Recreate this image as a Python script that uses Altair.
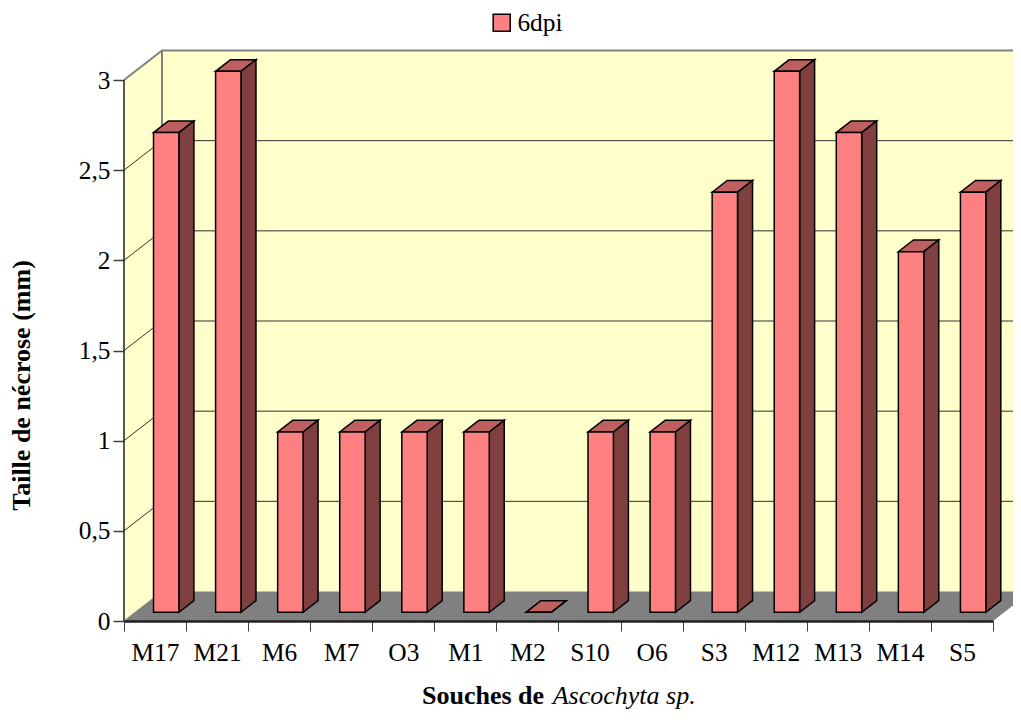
import altair as alt
import pandas as pd

categories = ["M17", "M21", "M6", "M7", "O3", "M1", "M2", "S10", "O6", "S3", "M12", "M13", "M14", "S5"]
values = [2.66, 3, 1, 1, 1, 1, 0, 1, 1, 2.33, 3, 2.66, 2, 2.33]
y_ticks = [0, 0.5, 1, 1.5, 2, 2.5, 3]
series_name = "6dpi"

FONT = "Liberation Serif"
PX_X = 62.07          # px per category
PX_Y = 180.33         # px per y unit
W, H = 889, 577
DX = 38 / PX_X        # depth of the box on x
DY = 29.5 / PX_Y      # depth of the box on y
BAR_L, BAR_R = 0.295, 0.704   # bar front edges inside a category
D0, D1 = 0.295, 0.69  # bar depth span
XMAX = W / PX_X
YMAX = H / PX_Y
XBACK = len(categories) + DX

X = alt.X("x:Q", scale=alt.Scale(domain=[0, XMAX], nice=False, zero=False), axis=None)
Y = alt.Y("y:Q", stack=None, scale=alt.Scale(domain=[0, YMAX], nice=False, zero=False),
          axis=alt.Axis(values=y_ticks, title="Taille de nécrose (mm)", domain=False, grid=False,
                        tickSize=11, tickColor="#404040", tickWidth=1.5, labelPadding=3,
                        labelExpr="replace(format(datum.value, ''), '.', ',')",
                        labelFont=FONT, labelFontSize=25.4, labelColor="black",
                        titleFont=FONT, titleFontSize=26, titleFontWeight="bold", titleColor="black",
                        titleX=-90, titleY=341))
Y2 = alt.Y2("y2:Q")
X2 = alt.X2("x2:Q")


def quads():
    top, side, front = [], [], []
    for i, (c, v) in enumerate(zip(categories, values)):
        l, r = i + BAR_L, i + BAR_R
        front.append(dict(c=c, series=series_name, x=l + D0 * DX, x2=r + D0 * DX, y=v + D0 * DY, y2=D0 * DY))
        for d in (D0, D1):
            side.append(dict(c=c, x=r + d * DX, y=v + d * DY, y2=d * DY))
            top.append(dict(c=c, y=v + d * DY, x=l + d * DX, x2=r + d * DX))
    return pd.DataFrame(top), pd.DataFrame(side), pd.DataFrame(front)


top_df, side_df, front_df = quads()

# Walls and floor
back = alt.Chart(pd.DataFrame([dict(x=DX, x2=XBACK, y=DY, y2=3 + DY)])).mark_rect(
    color="#FFFFCC", clip=True).encode(x=X, x2=X2, y=Y, y2=Y2)
left = alt.Chart(pd.DataFrame([dict(x=0, y=3, y2=0), dict(x=DX, y=3 + DY, y2=DY)])).mark_area(
    color="#FFFFCC", orient="vertical").encode(x=X, y=Y, y2=Y2)
floor = alt.Chart(pd.DataFrame([dict(y=0, x=0, x2=len(categories)),
                                dict(y=DY, x=DX, x2=XBACK)])).mark_area(
    color="#808080", orient="horizontal", clip=True).encode(y=Y, x=X, x2=X2)

# Gridlines
grid_rows = []
for v in y_ticks[1:-1]:
    grid_rows += [dict(g=v, o=0, x=0, y=v), dict(g=v, o=1, x=DX, y=v + DY), dict(g=v, o=2, x=XBACK, y=v + DY)]
grid = alt.Chart(pd.DataFrame(grid_rows)).mark_line(color="#303030", strokeWidth=1, clip=True).encode(
    x=X, y=Y, detail="g:N", order="o:O")

outline = alt.Chart(pd.DataFrame([dict(o=0, x=DX, y=DY), dict(o=1, x=DX, y=3 + DY),
                                  dict(o=2, x=XBACK, y=3 + DY)])).mark_line(
    color="#808080", strokeWidth=2, clip=True).encode(x=X, y=Y, order="o:O")
outline2 = alt.Chart(pd.DataFrame([dict(o=0, x=0, y=3), dict(o=1, x=DX, y=3 + DY)])).mark_line(
    color="#808080", strokeWidth=2).encode(x=X, y=Y, order="o:O")
axis_line = alt.Chart(pd.DataFrame([dict(o=0, x=0, y=0), dict(o=1, x=0, y=3)])).mark_line(
    color="#202020", strokeWidth=1.5).encode(x=X, y=Y, order="o:O")
floor_diag = alt.Chart(pd.DataFrame([dict(o=0, x=0, y=0), dict(o=1, x=DX, y=DY)])).mark_line(
    color="#808080", strokeWidth=1).encode(x=X, y=Y, order="o:O")

# Bars
bar_top = alt.Chart(top_df).mark_area(color="#BF6060", stroke="black", strokeWidth=1.5,
                                      orient="horizontal").encode(y=Y, x=X, x2=X2, detail="c:N")
bar_side = alt.Chart(side_df).mark_area(color="#804040", stroke="black", strokeWidth=1.5,
                                        orient="vertical").encode(x=X, y=Y, y2=Y2, detail="c:N")
bar_front = alt.Chart(front_df).mark_rect(stroke="black", strokeWidth=1.5).encode(
    x=X, x2=X2, y=Y, y2=Y2,
    color=alt.Color("series:N", scale=alt.Scale(domain=[series_name], range=["#FF8080"]),
                    legend=alt.Legend(orient="none", legendX=365, legendY=-34, title=None,
                                      symbolType="square", symbolSize=290, symbolStrokeColor="black",
                                      symbolStrokeWidth=1.5, symbolOpacity=1,
                                      labelFont=FONT, labelFontSize=25.4, labelColor="black",
                                      labelOffset=3, padding=0)))

# Category axis
cat_axis = alt.Chart(pd.DataFrame({"c": categories})).mark_point(opacity=0).encode(
    x=alt.X("c:N", sort=categories, title=None,
            scale=alt.Scale(type="band", domain=categories, range=[0, PX_X * len(categories)], padding=0),
            axis=alt.Axis(tickBand="extent", labelAngle=0, labelFont=FONT, labelFontSize=25.4,
                          labelColor="black", labelPadding=9, tickSize=10, tickColor="#404040",
                          tickWidth=1, domainColor="#202020", domainWidth=2.5, zindex=1,
                          labelBaseline="top"))
)

title_a = alt.Chart(pd.DataFrame({"t": ["Souches de"]})).mark_text(
    font=FONT, fontSize=26, fontWeight="bold", align="left", baseline="alphabetic", color="black").encode(
    text="t:N", x=alt.value(298), y=alt.value(660))
title_b = alt.Chart(pd.DataFrame({"t": ["Ascochyta sp."]})).mark_text(
    font=FONT, fontSize=26, fontStyle="italic", align="left", baseline="alphabetic", color="black").encode(
    text="t:N", x=alt.value(428.7), y=alt.value(660))

chart = alt.layer(
    back, left, floor, grid, outline, outline2, floor_diag, axis_line,
    bar_top, bar_side, bar_front, cat_axis, title_a, title_b
).resolve_scale(x="independent").properties(
    width=W, height=H, autosize=alt.AutoSizeParams(type="none"),
    padding={"left": 116, "top": 36, "right": 0, "bottom": 89}, background="white"
).configure_view(stroke=None)

chart.save("out.html", embed_options={"renderer": "svg", "actions": False})
